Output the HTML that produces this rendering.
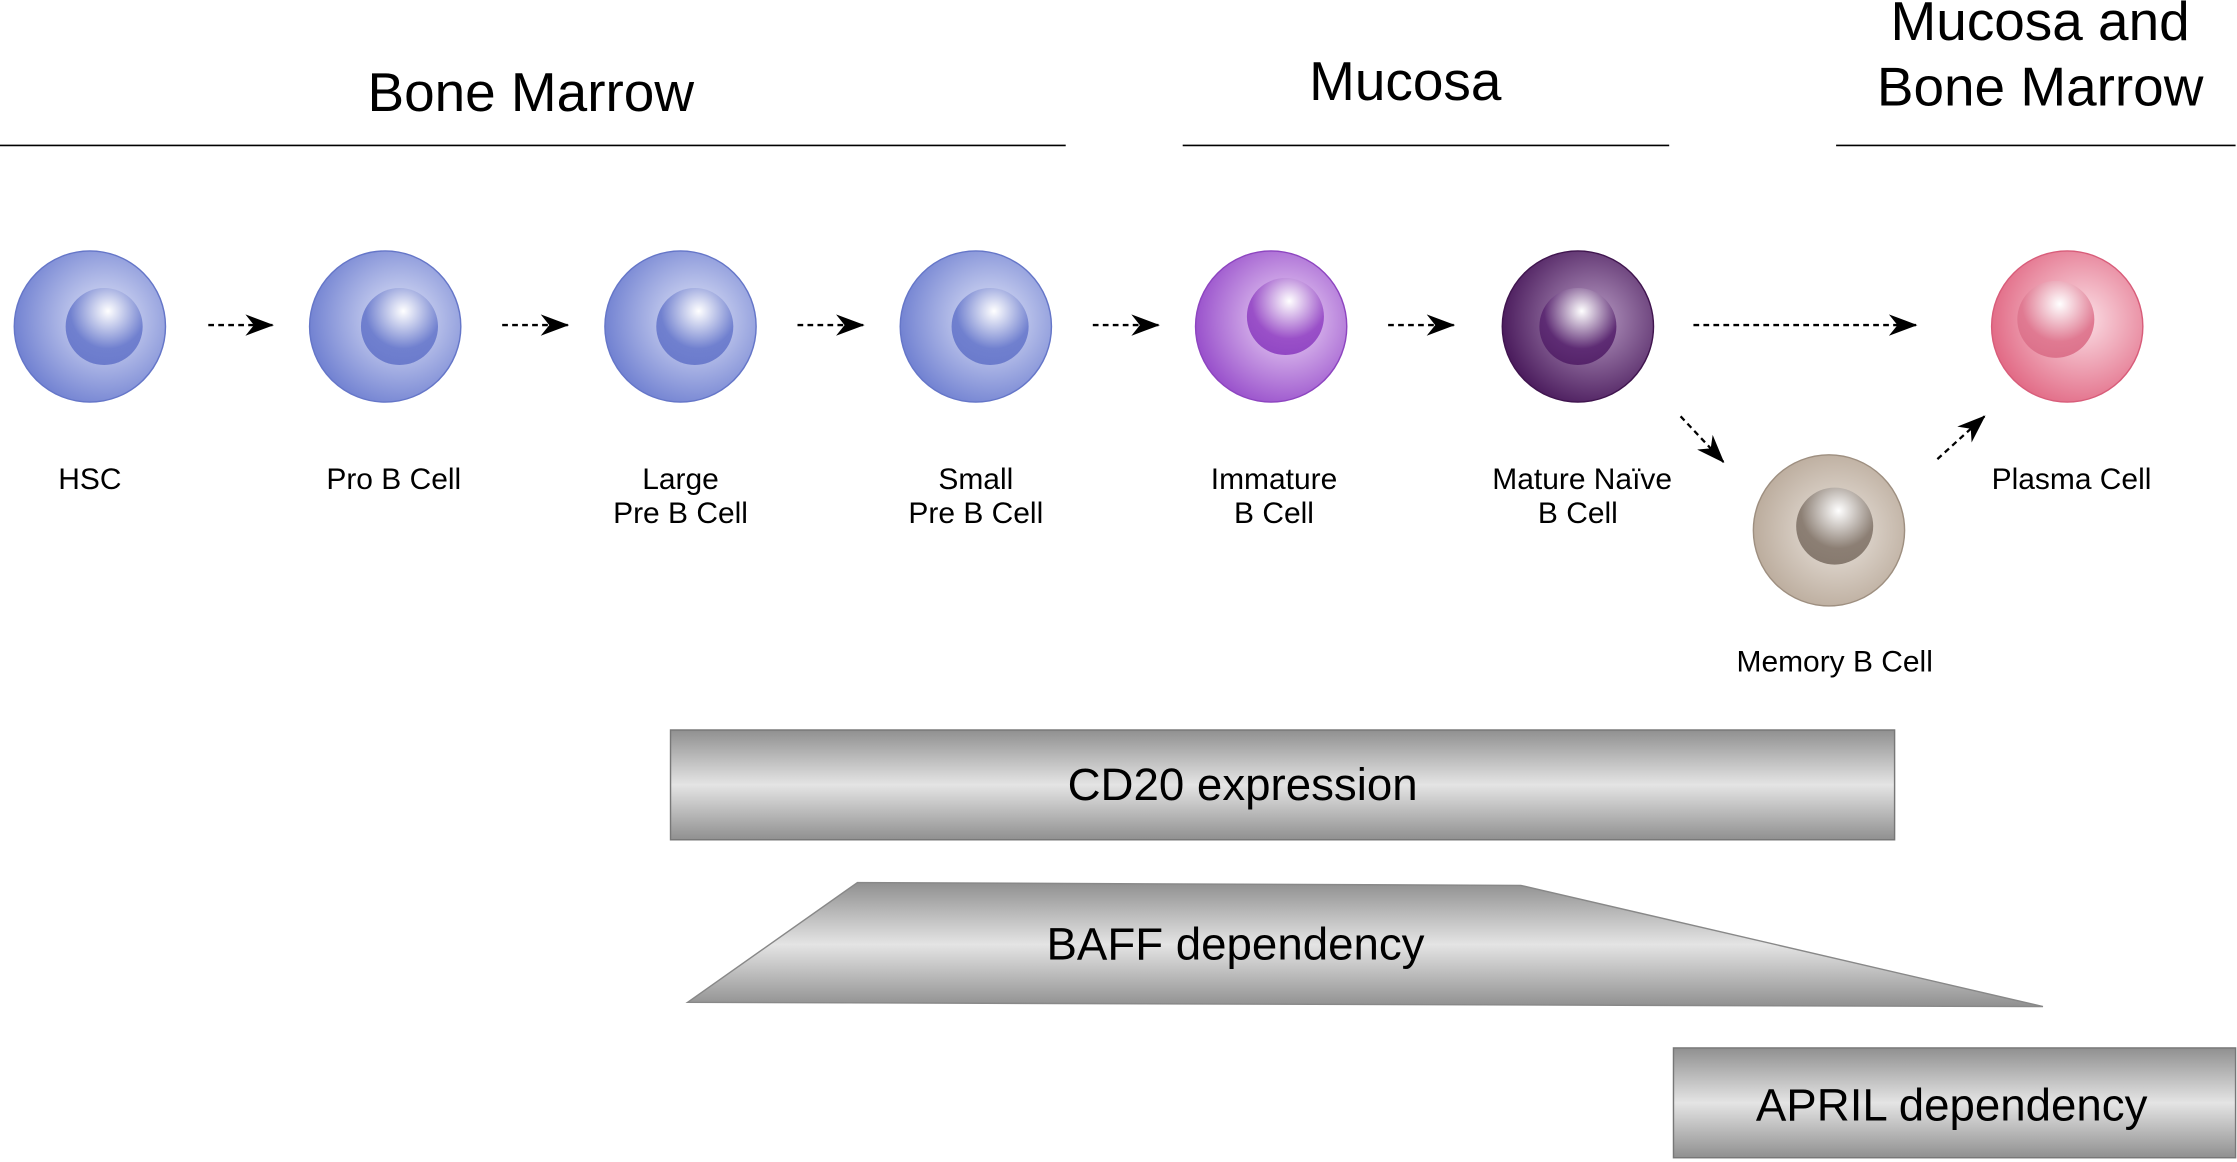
<!DOCTYPE html>
<html><head><meta charset="utf-8"><style>
html,body{margin:0;padding:0;background:#fff;}
svg{display:block;}
text{font-family:"Liberation Sans",Arial,sans-serif;fill:#000;}
</style></head><body>
<svg width="2237" height="1162" viewBox="0 0 1568 815" preserveAspectRatio="none" xmlns="http://www.w3.org/2000/svg">
<defs>
<linearGradient id="bar" x1="0" y1="0" x2="0" y2="1">
<stop offset="0" stop-color="#909090"/><stop offset="0.5" stop-color="#e4e4e4"/><stop offset="1" stop-color="#909090"/>
</linearGradient>
<radialGradient id="cb" cx="0.6" cy="0.45" r="0.6"><stop offset="0" stop-color="#e2e6f8"/><stop offset="1" stop-color="#7383d2"/></radialGradient>
<radialGradient id="nb" cx="0.55" cy="0.3" r="0.7"><stop offset="0" stop-color="#ffffff"/><stop offset="0.7" stop-color="#7080cf"/><stop offset="1" stop-color="#6b7bcc"/></radialGradient>
<radialGradient id="cp" cx="0.6" cy="0.45" r="0.6"><stop offset="0" stop-color="#f0dcf8"/><stop offset="1" stop-color="#9a52cc"/></radialGradient>
<radialGradient id="np" cx="0.55" cy="0.3" r="0.7"><stop offset="0" stop-color="#ffffff"/><stop offset="0.7" stop-color="#9a50c8"/><stop offset="1" stop-color="#9248c4"/></radialGradient>
<radialGradient id="cd" cx="0.6" cy="0.45" r="0.6"><stop offset="0" stop-color="#b89cc4"/><stop offset="1" stop-color="#4c1d5e"/></radialGradient>
<radialGradient id="nd" cx="0.55" cy="0.3" r="0.7"><stop offset="0" stop-color="#ffffff"/><stop offset="0.7" stop-color="#5e2c74"/><stop offset="1" stop-color="#55246a"/></radialGradient>
<radialGradient id="ck" cx="0.6" cy="0.45" r="0.6"><stop offset="0" stop-color="#fbe0e6"/><stop offset="1" stop-color="#e26c87"/></radialGradient>
<radialGradient id="nk" cx="0.55" cy="0.3" r="0.7"><stop offset="0" stop-color="#ffffff"/><stop offset="0.7" stop-color="#e07a92"/><stop offset="1" stop-color="#dc728b"/></radialGradient>
<radialGradient id="cm" cx="0.55" cy="0.5" r="0.6"><stop offset="0" stop-color="#ece6e0"/><stop offset="1" stop-color="#b7a797"/></radialGradient>
<radialGradient id="nm" cx="0.55" cy="0.3" r="0.7"><stop offset="0" stop-color="#ffffff"/><stop offset="0.7" stop-color="#8c7f74"/><stop offset="1" stop-color="#877a6f"/></radialGradient>
<marker id="ah2" markerWidth="20" markerHeight="15" refX="19" refY="7.5" orient="auto" markerUnits="userSpaceOnUse" viewBox="0 0 20 15">
<path d="M0,0 L20,7.5 L0,15 L6,7.5 Z" fill="#000"/></marker>
</defs>

<text x="372" y="78" font-size="38.5" text-anchor="middle">Bone Marrow</text>
<text x="985" y="70" font-size="38.5" text-anchor="middle">Mucosa</text>
<text x="1430" y="28" font-size="38.5" text-anchor="middle">Mucosa and</text>
<text x="1430" y="74" font-size="38.5" text-anchor="middle">Bone Marrow</text>
<g stroke="#000" stroke-width="1.2">
<line x1="0" y1="102" x2="747" y2="102"/>
<line x1="829" y1="102" x2="1170" y2="102"/>
<line x1="1287" y1="102" x2="1567" y2="102"/>
</g>

<g stroke-width="1">
<circle cx="63" cy="229" r="53" fill="url(#cb)" stroke="#6576c8"/>
<circle cx="73" cy="229" r="27" fill="url(#nb)"/>
<circle cx="270" cy="229" r="53" fill="url(#cb)" stroke="#6576c8"/>
<circle cx="280" cy="229" r="27" fill="url(#nb)"/>
<circle cx="477" cy="229" r="53" fill="url(#cb)" stroke="#6576c8"/>
<circle cx="487" cy="229" r="27" fill="url(#nb)"/>
<circle cx="684" cy="229" r="53" fill="url(#cb)" stroke="#6576c8"/>
<circle cx="694" cy="229" r="27" fill="url(#nb)"/>
<circle cx="891" cy="229" r="53" fill="url(#cp)" stroke="#8d45c0"/>
<circle cx="901" cy="222" r="27" fill="url(#np)"/>
<circle cx="1106" cy="229" r="53" fill="url(#cd)" stroke="#40154f"/>
<circle cx="1106" cy="229" r="27" fill="url(#nd)"/>
<circle cx="1449" cy="229" r="53" fill="url(#ck)" stroke="#d85d7a"/>
<circle cx="1441" cy="224" r="27" fill="url(#nk)"/>
<circle cx="1282" cy="372" r="53" fill="url(#cm)" stroke="#9e8f80"/>
<circle cx="1286" cy="369" r="27" fill="url(#nm)"/>
</g>

<g stroke="#000" stroke-width="1.6" stroke-dasharray="4,3" fill="none">
<line x1="146" y1="228" x2="191" y2="228" marker-end="url(#ah2)"/>
<line x1="352" y1="228" x2="398" y2="228" marker-end="url(#ah2)"/>
<line x1="559" y1="228" x2="605" y2="228" marker-end="url(#ah2)"/>
<line x1="766" y1="228" x2="812" y2="228" marker-end="url(#ah2)"/>
<line x1="973" y1="228" x2="1019" y2="228" marker-end="url(#ah2)"/>
<line x1="1187" y1="228" x2="1343" y2="228" marker-end="url(#ah2)"/>
<line x1="1178" y1="292" x2="1208" y2="324" marker-end="url(#ah2)"/>
<line x1="1358" y1="322" x2="1391" y2="292" marker-end="url(#ah2)"/>
</g>

<g font-size="21" text-anchor="middle">
<text x="63" y="343">HSC</text>
<text x="276" y="343">Pro B Cell</text>
<text x="477" y="343">Large</text><text x="477" y="367">Pre B Cell</text>
<text x="684" y="343">Small</text><text x="684" y="367">Pre B Cell</text>
<text x="893" y="343">Immature</text><text x="893" y="367">B Cell</text>
<text x="1109" y="343">Mature Naïve</text><text x="1106" y="367">B Cell</text>
<text x="1452" y="343">Plasma Cell</text>
<text x="1286" y="471">Memory B Cell</text>
</g>

<rect x="470" y="512" width="858" height="77" fill="url(#bar)" stroke="#777" stroke-width="1"/>
<text x="871" y="561" font-size="32" text-anchor="middle">CD20 expression</text>
<polygon points="482,703 601,619 1066,621 1432,706" fill="url(#bar)" stroke="#888" stroke-width="1"/>
<text x="866" y="673" font-size="32" text-anchor="middle">BAFF dependency</text>
<rect x="1173" y="735" width="394" height="77" fill="url(#bar)" stroke="#777" stroke-width="1"/>
<text x="1368" y="786" font-size="32" text-anchor="middle">APRIL dependency</text>
</svg>
</body></html>
